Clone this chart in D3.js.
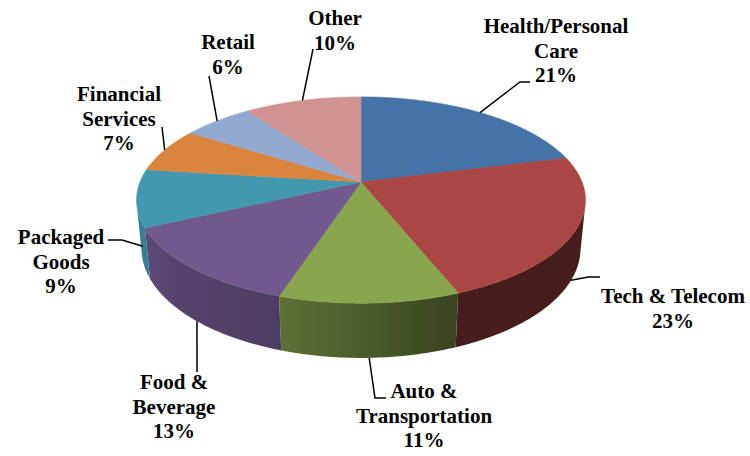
<!DOCTYPE html>
<html>
<head>
<meta charset="utf-8">
<script src="https://cdn.jsdelivr.net/npm/d3@7"></script>
<style>
  body { margin: 0; background: #fff; }
</style>
</head>
<body>
<script>
const width = 750;
const height = 456;

// data, clockwise from 12 o'clock
const categories = ["Health/Personal Care", "Tech & Telecom", "Auto & Transportation", "Food & Beverage",
  "Packaged Goods", "Financial Services", "Retail", "Other"];
const shares = [21, 23, 11, 13, 9, 7, 6, 10];
const labelLines = [["Health/Personal", "Care"], ["Tech & Telecom"], ["Auto &", "Transportation"],
  ["Food &", "Beverage"], ["Packaged", "Goods"], ["Financial", "Services"], ["Retail"], ["Other"]];
const colors = ["#4572A7", "#AA4643", "#89A54E", "#71588F", "#4198AF", "#DB843D", "#93A9CF", "#D19392"];

// label placement (centre x, first baseline, leader anchor on the pie, leader bend points)
const labelLayout = [
  { x: 556, y: 33, anchorDeg: null, zFrac: 0, bends: [[520, 82], [530, 82]] },
  { x: 673, y: 303, anchorDeg: 116, zFrac: 1, bends: [[588, 277], [600, 277]] },
  { x: 424, y: 398, anchorDeg: null, zFrac: 1, bends: [[375, 398], [386, 398]] },
  { x: 174, y: 389, anchorDeg: null, zFrac: 1, bends: [[197, 372]] },
  { x: 61, y: 244, anchorDeg: 250, zFrac: 0.55, bends: [[122, 240], [108, 240]] },
  { x: 119, y: 101, anchorDeg: null, zFrac: 0, bends: [[162, 127]] },
  { x: 228, y: 49, anchorDeg: null, zFrac: 0, bends: [[209, 76]] },
  { x: 335, y: 25, anchorDeg: null, zFrac: 0, bends: [[313, 49]] },
];

const cx = 361, cy = 182, R = 221, H = 55;
const tilt = 26.9 * Math.PI / 180;
const camDist = 1127;
const lineHeight = 24.5;

// perspective projection of a point on the pie rim (theta clockwise from back), z up
function project(theta, z, r = R) {
  const X = r * Math.sin(theta), Y = r * Math.cos(theta);
  const depth = Y * Math.cos(tilt) - z * Math.sin(tilt);
  const s = camDist / (camDist + depth);
  return [cx + X * s, cy - (Y * Math.sin(tilt) + z * Math.cos(tilt)) * s];
}

const svg = d3.select("body").append("svg")
  .attr("width", width)
  .attr("height", height);
const defs = svg.append("defs");

const arcs = d3.pie().sort(null).value((d) => d)(shares);

// side wall, only the part facing the camera
const thetaMin = Math.acos(-R / (camDist * Math.cos(tilt)));
const thetaMax = 2 * Math.PI - thetaMin;
const shade = d3.scaleLinear()
  .domain([160, 198, 257].map((d) => d * Math.PI / 180))
  .range([0.42, 0.68, 0.86])
  .clamp(true);
const step = 0.5 * Math.PI / 180;

const walls = svg.append("g");
arcs.forEach((a, i) => {
  const t0 = Math.max(a.startAngle, thetaMin);
  const t1 = Math.min(a.endAngle, thetaMax);
  if (t1 <= t0) return;
  const base = d3.rgb(colors[i]);
  const n = Math.max(2, Math.ceil((t1 - t0) / step));
  const thetas = d3.range(n + 1).map((j) => t0 + (t1 - t0) * j / n);
  const xA = project(t0, 0)[0], xB = project(t1, 0)[0];

  const grad = defs.append("linearGradient")
    .attr("id", `wall${i}`)
    .attr("gradientUnits", "userSpaceOnUse")
    .attr("x1", xA).attr("x2", xB)
    .attr("y1", 0).attr("y2", 0);
  thetas.filter((_, j) => j % 4 === 0 || j === n).forEach((t) => {
    const k = shade(t);
    grad.append("stop")
      .attr("offset", (project(t, 0)[0] - xA) / (xB - xA))
      .attr("stop-color", d3.rgb(base.r * k, base.g * k, base.b * k));
  });

  const pts = [...thetas.map((t) => project(t, 0)), ...thetas.slice().reverse().map((t) => project(t, -H))];
  walls.append("path")
    .attr("d", d3.line()(pts) + "Z")
    .attr("fill", `url(#wall${i})`);
});

// top faces
const tops = svg.append("g");
arcs.forEach((a, i) => {
  const pts = [[cx, cy]];
  const n = Math.max(4, Math.ceil((a.endAngle - a.startAngle) / step));
  for (let j = 0; j <= n; j++) {
    pts.push(project(a.startAngle + (a.endAngle - a.startAngle) * j / n, 0));
  }
  tops.append("path")
    .attr("d", d3.line()(pts) + "Z")
    .attr("fill", colors[i])
    .attr("stroke", colors[i])
    .attr("stroke-width", 0.6);
});

// leader lines and labels
const labels = svg.append("g");
arcs.forEach((a, i) => {
  const lay = labelLayout[i];
  const theta = lay.anchorDeg == null ? (a.startAngle + a.endAngle) / 2 : lay.anchorDeg * Math.PI / 180;
  const anchor = project(theta, -H * lay.zFrac);
  labels.append("path")
    .attr("d", d3.line()([anchor, ...lay.bends]))
    .attr("fill", "none")
    .attr("stroke", "#000")
    .attr("stroke-width", 1.5);

  const lines = [...labelLines[i], `${shares[i]}%`];
  lines.forEach((l, j) => {
    labels.append("text")
      .attr("x", lay.x)
      .attr("y", lay.y + j * lineHeight)
      .attr("text-anchor", "middle")
      .attr("font-family", "'Liberation Serif', serif")
      .attr("font-weight", "bold")
      .attr("font-size", 21)
      .attr("fill", "#000")
      .text(l);
  });
});
</script>
</body>
</html>
